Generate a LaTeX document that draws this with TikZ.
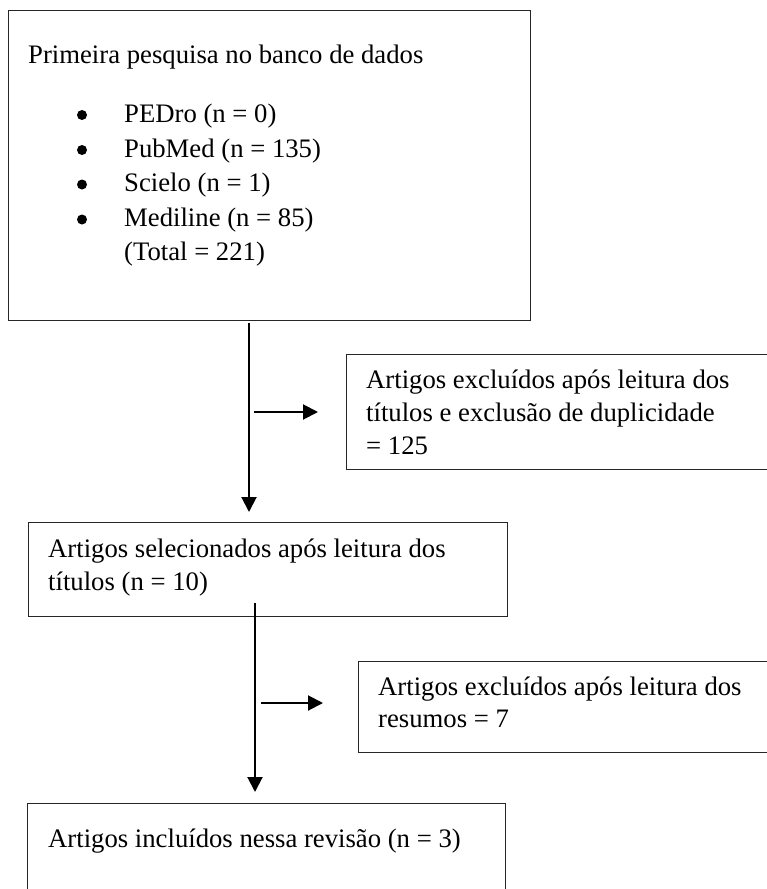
\documentclass[tikz,border=0pt]{standalone}
\usepackage{fontspec}
\setmainfont{Liberation Serif}
\usetikzlibrary{arrows.meta}

\begin{document}
\begin{tikzpicture}[
            x=1pt, y=-1pt,
            caixa/.style={shape=rectangle, draw=black!85, line width=1pt, anchor=north west, inner sep=0pt},
            texto/.style={anchor=base west, inner sep=0pt, font=\fontsize{26.7pt}{34pt}\selectfont},
            marca/.style={shape=circle, fill=black, inner sep=0pt, minimum size=10pt},
            seta/.style={line width=2pt, -{Triangle[length=15pt, width=15pt]}},
        ]
        \useasboundingbox (0,0) rectangle (767,889);
        \clip (0,0) rectangle (767,889);

        \node[caixa, minimum width=522pt, minimum height=310pt] (busca) at (8,10) {};
        \node[caixa, minimum width=500pt, minimum height=115pt] (excl1) at (346,354) {};
        \node[caixa, minimum width=479pt, minimum height=94pt] (selec) at (28,522) {};
        \node[caixa, minimum width=500pt, minimum height=91pt] (excl2) at (358,661) {};
        \node[caixa, minimum width=478pt, minimum height=150pt] (incl) at (27,803) {};

        \node[texto] (titulo) at (28,63) {Primeira pesquisa no banco de dados};
        \node[marca] (m1) at (82,115) {};
        \node[marca] (m2) at (82,150) {};
        \node[marca] (m3) at (82,184.5) {};
        \node[marca] (m4) at (82,219.5) {};
        \node[texto] (pedro) at (124,122) {PEDro (n = 0)};
        \node[texto] (pubmed) at (124,157) {PubMed (n = 135)};
        \node[texto] (scielo) at (124,191.5) {Scielo (n = 1)};
        \node[texto] (mediline) at (124,226.5) {Mediline (n = 85)};
        \node[texto] (total) at (124,260) {(Total = 221)};

        \node[texto] (e1a) at (366,388) {Artigos excluídos após leitura dos};
        \node[texto] (e1b) at (366,421) {títulos e exclusão de duplicidade};
        \node[texto] (e1c) at (366,454) {= 125};

        \node[texto] (s1a) at (48,557) {Artigos selecionados após leitura dos};
        \node[texto] (s1b) at (48,590) {títulos (n = 10)};

        \node[texto] (e2a) at (378,695) {Artigos excluídos após leitura dos};
        \node[texto] (e2b) at (378,727) {resumos = 7};

        \node[texto] (i1) at (48,847) {Artigos incluídos nessa revisão (n = 3)};

        \coordinate (v1) at (249,323);
        \coordinate (r1) at (254,412);
        \coordinate (v2) at (255,603);
        \coordinate (r2) at (261,703);

        \draw[seta, shorten >=10pt] (v1) -- (v1 |- selec.north);
        \draw[seta, shorten >=28pt] (r1) -- (r1 -| excl1.west);
        \draw[seta, shorten >=11pt] (v2) -- (v2 |- incl.north);
        \draw[seta, shorten >=35pt] (r2) -- (r2 -| excl2.west);

    \end{tikzpicture}
\end{document}
